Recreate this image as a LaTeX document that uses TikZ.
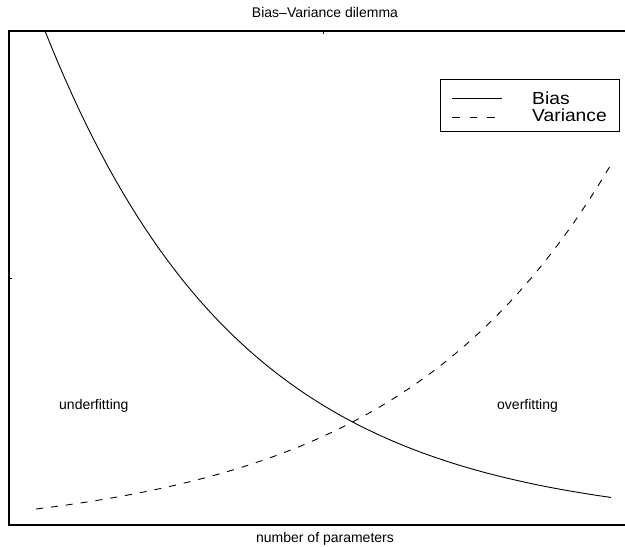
\documentclass[tikz,border=0pt]{standalone}
\usepackage{fontspec}
\setmainfont{Liberation Sans}
\begin{document}
\begin{tikzpicture}[x=1pt,y=-1pt,
  lbl/.style={font=\fontsize{14}{16}\selectfont, inner sep=0pt},
  leg/.style={font=\fontsize{17.5}{18}\selectfont, inner sep=0pt, xscale=1.1, anchor=base west},
  biasline/.style={line width=0.9pt},
  varline/.style={line width=0.9pt, dash pattern=on 7pt off 8pt}]
\useasboundingbox (0,0) rectangle (625,547);
% axes box
\draw[line width=1.3pt] (9,31) rectangle (637,525);
\coordinate (tt0) at (323,31); \coordinate (tt1) at (323,34);
\draw[line width=0.8pt] (tt0) -- (tt1);
\coordinate (lt0) at (9,278); \coordinate (lt1) at (12,278);
\draw[line width=0.8pt] (lt0) -- (lt1);
% curves
\begin{scope}
\clip (9,31) rectangle (637,525);
\draw[biasline] plot[domain=36:611, samples=80] (\x, {525 - 494*exp(-0.0051*(\x-45))});
\draw[varline] plot[domain=36:611, samples=80] (\x, {525 + 10.7 - 26.7*exp(0.00458*(\x-36))});
\end{scope}
% labels
\node[lbl, anchor=base] (title) at (325,17.5) {Bias–Variance dilemma};
\node[lbl, anchor=base] (xlab) at (325,542) {number of parameters};
\node[lbl, anchor=base west] (under) at (59,409) {underfitting};
\node[lbl, anchor=base west] (over) at (497,409) {overfitting};
% legend
\node[draw, line width=0.9pt, minimum width=179pt, minimum height=52pt, anchor=north west, inner sep=0pt] (legbox) at (440,79) {};
\coordinate (b0) at (452,98); \coordinate (b1) at (502,98);
\draw[biasline] (b0) -- (b1);
\coordinate (v0) at (452,117); \coordinate (v1) at (502,117);
\draw[line width=0.9pt, dash pattern=on 7.5pt off 10pt] (v0) -- (v1);
\node[leg] (lbias) at (532,104) {Bias};
\node[leg] (lvar) at (532,121) {Variance};
\end{tikzpicture}
\end{document}
